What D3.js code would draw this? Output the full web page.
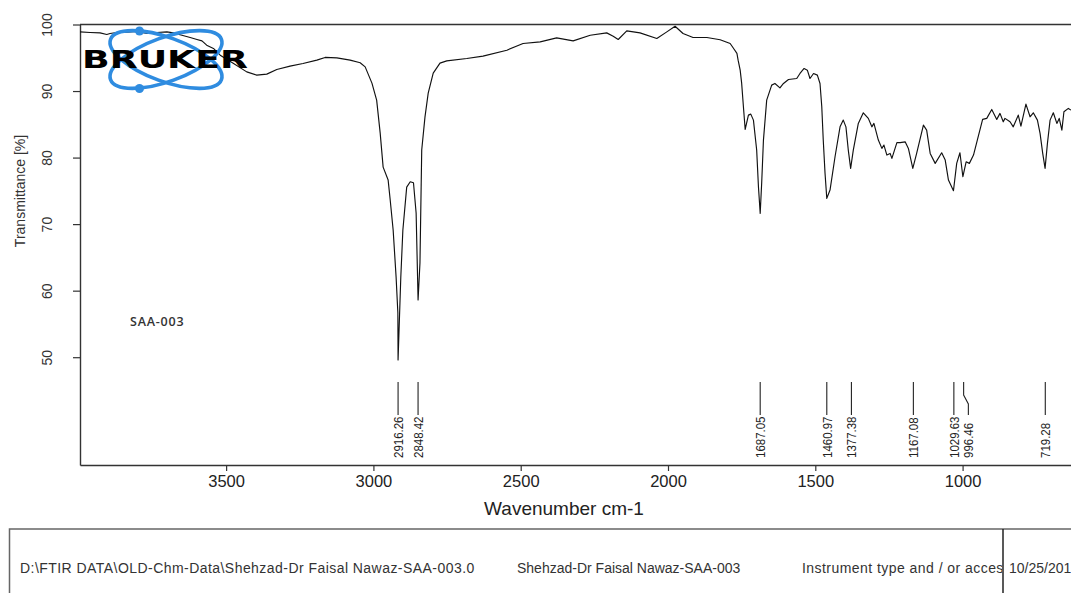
<!DOCTYPE html>
<html><head><meta charset="utf-8">
<script src="https://cdn.jsdelivr.net/npm/d3@7"></script>
<style>body{margin:0;background:#fff;overflow:hidden;} svg{display:block;}</style>
</head><body>
<svg id="chart" width="1071" height="593"></svg>
<script>
// ---- data ----
const wavenumbers = [3996,3962,3928,3905,3894,3871,3837,3803,3769,3735,3701,3679,3650,3622,3599,3582,3566,3543,3520,3476,3430,3396,3362,3328,3283,3239,3192,3164,3124,3079,3045,3028,3005,2989,2977,2967,2950,2943,2933,2923,2917,2916.3,2907,2900,2887,2875,2864,2855,2848.4,2842,2836,2825,2814,2797,2774,2751,2683,2628,2547,2492,2434,2378,2322,2264,2208,2186,2169,2140,2095,2038,2004,1976,1949,1915,1868,1823,1789,1779,1766,1762,1755,1750,1744,1738,1727,1719,1710,1699,1693,1687,1682,1676,1665,1648,1637,1620,1608,1591,1563,1552,1538,1527,1518,1506,1493,1484,1478,1473,1467,1461,1450,1433,1416,1405,1396,1388,1380,1371,1354,1337,1320,1308,1301,1286,1274,1267,1257,1246,1240,1223,1212,1195,1184,1169,1156,1133,1122,1110,1093,1071,1059,1048,1031,1020,1009,999,988,977,963,950,932,918,901,884,873,862,856,839,828,811,802,785,771,760,746,737,728,720,712,703,692,680,672,663,656,641,632];
const transmittance = [98.89,98.80,98.74,98.50,98.65,98.80,98.84,98.95,98.65,98.80,98.89,98.74,98.39,98.05,97.75,97.54,96.89,96.40,95.39,94.19,92.88,92.39,92.54,93.24,93.74,94.14,94.64,95.05,94.98,94.64,94.26,93.63,91.19,88.63,83.68,78.57,76.62,73.62,69.11,62.05,56.65,49.59,62.05,69.11,75.56,76.37,76.22,71.67,58.60,64.16,81.13,86.08,89.68,92.69,94.19,94.53,94.89,95.24,96.14,97.15,97.39,97.99,97.54,98.39,98.74,98.24,97.75,99.04,98.74,97.90,98.89,99.74,98.65,98.05,98.05,97.70,97.15,96.50,95.65,94.64,93.14,91.19,87.63,84.23,86.38,86.53,85.63,81.13,75.62,71.62,76.17,82.63,88.63,90.89,91.14,90.48,91.14,91.74,91.89,92.64,93.39,93.14,91.89,92.64,92.39,91.14,87.63,82.63,77.67,73.87,75.12,80.12,84.62,85.63,84.62,81.13,78.38,81.13,85.14,86.73,85.89,84.62,85.14,82.63,81.38,81.88,80.38,80.63,79.88,82.25,82.25,82.37,81.38,78.38,80.63,84.88,84.13,80.63,79.13,80.72,79.62,76.62,75.02,79.13,80.72,77.12,79.37,79.13,80.38,82.63,85.74,85.89,87.24,85.74,86.64,85.38,85.89,85.38,84.62,86.38,84.73,88.03,86.13,86.73,85.63,83.63,80.63,78.38,82.13,85.63,86.73,85.14,85.89,84.13,86.88,87.39,87.13];
const xTickValues = [3500, 3000, 2500, 2000, 1500, 1000];
const yTickValues = [50, 60, 70, 80, 90, 100];
const peakPositions = [2916.26, 2848.42, 1687.05, 1460.97, 1377.38, 1167.08, 1029.63, 996.46, 719.28];
const peakLabels = ["2916.26", "2848.42", "1687.05", "1460.97", "1377.38", "1167.08", "1029.63", "996.46", "719.28"];
const sampleName = "SAA-003";
const xAxisTitle = "Wavenumber cm-1";
const yAxisTitle = "Transmittance [%]";
const footerCells = ["D:\\FTIR DATA\\OLD-Chm-Data\\Shehzad-Dr Faisal Nawaz-SAA-003.0", "Shehzad-Dr Faisal Nawaz-SAA-003", "Instrument type and / or acces", "10/25/201"];

// ---- layout ----
const W = 1071, H = 593;
const plot = {left: 80, right: 1071, top: 24.5, bottom: 465};
const svg = d3.select("#chart");
const font = "Liberation Sans, Arial, sans-serif";

const x = d3.scaleLinear().domain([3996, 632]).range([plot.left, plot.right]);
const y = d3.scaleLinear().domain([33.8, 100]).range([plot.bottom, plot.top]);

// frame top line
svg.append("line").attr("x1", plot.left).attr("x2", W).attr("y1", plot.top).attr("y2", plot.top)
  .attr("stroke", "#333").attr("stroke-width", 1.4);

// y axis
const gy = svg.append("g").attr("transform", `translate(${plot.left},0)`)
  .call(d3.axisLeft(y).tickValues(yTickValues).tickSize(7).tickSizeOuter(0).tickFormat(d3.format("d")));
gy.select(".domain").attr("stroke", "#333").attr("stroke-width", 1.4);
gy.selectAll(".tick line").attr("stroke", "#333").attr("stroke-width", 1.2);
gy.selectAll(".tick text").attr("transform", "rotate(-90)").attr("x", 0).attr("y", -33)
  .attr("dy", "0.35em").attr("text-anchor", "middle")
  .style("font-family", font).style("font-size", "14px").attr("fill", "#333");

// x axis
const gx = svg.append("g").attr("transform", `translate(0,${plot.bottom})`)
  .call(d3.axisBottom(x).tickValues(xTickValues).tickSize(6).tickSizeOuter(0).tickFormat(d3.format("d")));
gx.select(".domain").attr("stroke", "#333").attr("stroke-width", 1.4);
gx.selectAll(".tick line").attr("stroke", "#333").attr("stroke-width", 1.2);
gx.selectAll(".tick text").attr("y", 10).attr("dy", "0.71em")
  .style("font-family", font).style("font-size", "16.5px").attr("fill", "#222");

// axis titles
svg.append("text").attr("x", 564).attr("y", 515).attr("text-anchor", "middle")
  .style("font-family", font).style("font-size", "19px").attr("fill", "#222").text(xAxisTitle);
svg.append("text").attr("transform", "translate(20,191) rotate(-90)").attr("dy", "0.35em")
  .attr("text-anchor", "middle").style("font-family", font).style("font-size", "14px")
  .attr("fill", "#333").text(yAxisTitle);

// spectrum
const pts = wavenumbers.map((w, i) => [w, transmittance[i]]);
svg.append("path").datum(pts)
  .attr("d", d3.line().x(d => x(d[0])).y(d => y(d[1])))
  .attr("fill", "none").attr("stroke", "#111").attr("stroke-width", 1.15).attr("stroke-linejoin", "round");

// peak markers
const peaks = peakPositions.map((p, i) => ({p, label: peakLabels[i], px: x(p)})).sort((a, b) => a.px - b.px);
let prev = -Infinity;
peaks.forEach(d => { d.lx = Math.max(d.px, prev + 14.5); prev = d.lx; });
const gp = svg.append("g");
peaks.forEach(d => {
  const path = d.lx === d.px
    ? `M${d.px},382V415`
    : `M${d.px},382V395L${d.lx},404V415`;
  gp.append("path").attr("d", path).attr("fill", "none").attr("stroke", "#222").attr("stroke-width", 1.1);
  gp.append("text").attr("transform", `translate(${d.lx},458) rotate(-90) scale(0.85,1)`)
    .attr("dy", "0.35em").attr("text-anchor", "start")
    .style("font-family", font).style("font-size", "13.5px").attr("fill", "#222").text(d.label);
});

// sample name
svg.append("text").attr("x", 130).attr("y", 326).style("font-family", "Open Sans, sans-serif")
  .style("font-size", "12.5px").style("font-weight", "600").style("letter-spacing", "0.8px").attr("fill", "#333").text(sampleName);

// Bruker logo
const logo = svg.append("g");
logo.append("ellipse").attr("cx", 166).attr("cy", 59.5).attr("rx", 59).attr("ry", 22)
  .attr("transform", "rotate(20,166,59.5)").attr("fill", "none").attr("stroke", "#2f8ce0").attr("stroke-width", 3.6);
logo.append("ellipse").attr("cx", 166).attr("cy", 59.5).attr("rx", 59).attr("ry", 22)
  .attr("transform", "rotate(-20,166,59.5)").attr("fill", "none").attr("stroke", "#2f8ce0").attr("stroke-width", 3.6);
logo.append("circle").attr("cx", 139.5).attr("cy", 31).attr("r", 4.5).attr("fill", "#2f8ce0");
logo.append("circle").attr("cx", 139.5).attr("cy", 88.5).attr("r", 4.5).attr("fill", "#2f8ce0");
logo.append("text").attr("x", 82).attr("y", 68).attr("textLength", 166).attr("lengthAdjust", "spacingAndGlyphs")
  .style("font-family", "DejaVu Sans, sans-serif").style("font-weight", "bold").style("font-size", "24px")
  .attr("fill", "#000").text("BRUKER");

// footer box
const boxTop = 529, divX = 1003;
svg.append("path").attr("d", `M${W},${boxTop}H9.5V${H}`).attr("fill", "none").attr("stroke", "#666").attr("stroke-width", 1.5);
svg.append("line").attr("x1", divX).attr("x2", divX).attr("y1", boxTop).attr("y2", H).attr("stroke", "#222").attr("stroke-width", 1.5);
svg.append("clipPath").attr("id", "cellclip").append("rect").attr("x", 0).attr("y", 0).attr("width", divX - 1).attr("height", H);
const footX = [20, 517, 802, 1009];
const footSpacing = [0.45, 0, 0.45, 0];
footerCells.forEach((t, i) => {
  svg.append("text").attr("x", footX[i]).attr("y", 573)
    .attr("clip-path", i === 2 ? "url(#cellclip)" : null)
    .style("letter-spacing", footSpacing[i] + "px")
    .style("font-family", font).style("font-size", "14px").attr("fill", "#333").text(t);
});
</script>
</body></html>
